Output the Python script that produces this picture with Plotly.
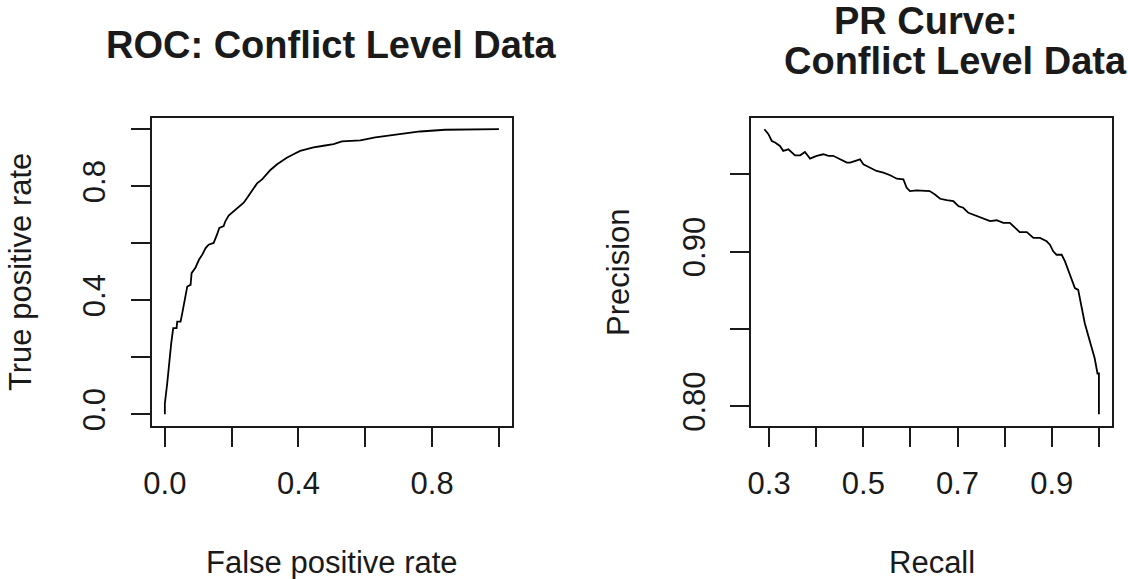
import plotly.graph_objects as go

# ---------------- data ----------------
roc_fpr = [0.0, 0.0, 0.007, 0.012, 0.019, 0.025, 0.035, 0.037, 0.047, 0.052, 0.057, 0.062, 0.067,
           0.077, 0.080, 0.091, 0.102, 0.112, 0.122, 0.131, 0.146, 0.156, 0.163, 0.176, 0.181,
           0.191, 0.206, 0.221, 0.236, 0.246, 0.261, 0.276, 0.291, 0.306, 0.316, 0.336, 0.351,
           0.365, 0.385, 0.405, 0.425, 0.445, 0.475, 0.505, 0.530, 0.585, 0.630, 0.684, 0.734,
           0.764, 0.839, 1.0]
roc_tpr = [0.0, 0.038, 0.108, 0.178, 0.249, 0.302, 0.302, 0.325, 0.325, 0.354, 0.390, 0.425, 0.448,
           0.454, 0.495, 0.513, 0.542, 0.560, 0.583, 0.595, 0.601, 0.630, 0.654, 0.660, 0.677,
           0.697, 0.712, 0.724, 0.742, 0.759, 0.783, 0.810, 0.824, 0.842, 0.857, 0.877, 0.889,
           0.900, 0.912, 0.924, 0.930, 0.936, 0.942, 0.948, 0.957, 0.961, 0.971, 0.979, 0.986,
           0.992, 0.998, 1.0]

pr_recall = [0.290, 0.2986, 0.3057, 0.3127, 0.323, 0.330, 0.341, 0.348, 0.355, 0.366, 0.376, 0.387,
             0.401, 0.415, 0.426, 0.436, 0.451, 0.465, 0.472, 0.486, 0.493, 0.500, 0.514, 0.528,
             0.5425, 0.557, 0.571, 0.585, 0.592, 0.599, 0.613, 0.627, 0.641, 0.652, 0.663, 0.677,
             0.691, 0.702, 0.712, 0.723, 0.737, 0.755, 0.769, 0.783, 0.797, 0.811, 0.822, 0.832,
             0.847, 0.861, 0.875, 0.889, 0.896, 0.903, 0.910, 0.921, 0.928, 0.935, 0.942, 0.949,
             0.956, 0.963, 0.970, 0.977, 0.984, 0.991, 0.997, 1.0, 1.0]
pr_precision = [0.9792, 0.976, 0.9716, 0.9706, 0.9684, 0.9652, 0.9662, 0.9645, 0.9623, 0.9623, 0.9645,
                0.9602, 0.962, 0.963, 0.962, 0.962, 0.9597, 0.9576, 0.9576, 0.9587, 0.9597, 0.9565,
                0.9543, 0.9522, 0.9511, 0.9494, 0.9472, 0.9468, 0.9413, 0.9392, 0.9396, 0.9396,
                0.9392, 0.937, 0.9342, 0.9333, 0.9327, 0.9294, 0.9284, 0.9251, 0.9234, 0.9212,
                0.9197, 0.9203, 0.9186, 0.9186, 0.9154, 0.9126, 0.9126, 0.9089, 0.9089, 0.9067,
                0.9045, 0.9002, 0.898, 0.898, 0.8937, 0.8883, 0.8818, 0.8764, 0.8753, 0.8645,
                0.8537, 0.8461, 0.8385, 0.831, 0.8212, 0.8212, 0.7948]

roc_x_ticks = [0.0, 0.2, 0.4, 0.6, 0.8, 1.0]
roc_x_labels = ["0.0", "", "0.4", "", "0.8", ""]
roc_y_ticks = [0.0, 0.2, 0.4, 0.6, 0.8, 1.0]
roc_y_labels = ["0.0", "", "0.4", "", "0.8", ""]
pr_x_ticks = [0.3, 0.4, 0.5, 0.6, 0.7, 0.8, 0.9, 1.0]
pr_x_labels = ["0.3", "", "0.5", "", "0.7", "", "0.9", ""]
pr_y_ticks = [0.80, 0.85, 0.90, 0.95]
pr_y_labels = ["0.80", "", "0.90", ""]

# ---------------- layout helpers ----------------
W, H = 1128, 579
FONT = "Liberation Sans, Arial, sans-serif"
INK = "#1a1a1a"


def px(x):
    return x / W


def py(y):
    return 1 - y / H


def rrange(v):
    lo, hi = min(v), max(v)
    d = (hi - lo) * 0.04
    return [lo - d, hi + d]


fig = go.Figure()
fig.add_trace(go.Scatter(x=roc_fpr, y=roc_tpr, mode="lines", xaxis="x", yaxis="y",
                         line=dict(color="black", width=1.8), showlegend=False))
fig.add_trace(go.Scatter(x=pr_recall, y=pr_precision, mode="lines", xaxis="x2", yaxis="y2",
                         line=dict(color="black", width=1.8), showlegend=False))

box_top, box_bot = 117.8, 425.7
axis_common = dict(showgrid=False, zeroline=False, showline=True, mirror=True, linecolor=INK,
                   linewidth=1.8, ticks="outside", ticklen=19, tickwidth=1.8, tickcolor=INK,
                   tickfont=dict(family=FONT, size=31, color=INK), automargin=False,
                   fixedrange=True)
x_common = dict(axis_common, ticklabelstandoff=10)
y_common = dict(axis_common, ticklabelstandoff=13, tickangle=-90)

fig.update_layout(
    width=W, height=H, margin=dict(l=0, r=0, t=0, b=0),
    paper_bgcolor="white", plot_bgcolor="white",
    xaxis=dict(domain=[px(151.5), px(512.3)], range=[-0.04, 1.04], anchor="y",
               tickmode="array", tickvals=roc_x_ticks, ticktext=roc_x_labels, **x_common),
    yaxis=dict(domain=[py(box_bot), py(box_top)], range=[-0.04, 1.04], anchor="x",
               tickmode="array", tickvals=roc_y_ticks, ticktext=roc_y_labels, **y_common),
    xaxis2=dict(domain=[px(751), px(1112.3)], range=rrange(pr_recall), anchor="y2",
                tickmode="array", tickvals=pr_x_ticks, ticktext=pr_x_labels, **x_common),
    yaxis2=dict(domain=[py(box_bot), py(box_top)], range=rrange(pr_precision), anchor="x2",
                tickmode="array", tickvals=pr_y_ticks, ticktext=pr_y_labels, **y_common),
)

title_font = dict(family=FONT, size=38, color=INK)
label_font = dict(family=FONT, size=31, color=INK)
ann = [
    dict(text="<b>ROC: Conflict Level Data</b>", x=px(331.9), y=py(45), font=title_font),
    dict(text="<b>PR Curve:</b>", x=px(926), y=py(21), font=title_font),
    dict(text="<b>Conflict Level Data</b>", x=px(955), y=py(61), font=title_font),
    dict(text="False positive rate", x=px(331.9), y=py(562), font=label_font),
    dict(text="Recall", x=px(931.6), y=py(562), font=label_font),
    dict(text="True positive rate", x=px(20), y=py(272), font=label_font, textangle=-90),
    dict(text="Precision", x=px(618), y=py(272), font=label_font, textangle=-90),
]
for a in ann:
    a.update(xref="paper", yref="paper", showarrow=False, xanchor="center", yanchor="middle")
fig.update_layout(annotations=ann)

fig.write_html("out.html")
